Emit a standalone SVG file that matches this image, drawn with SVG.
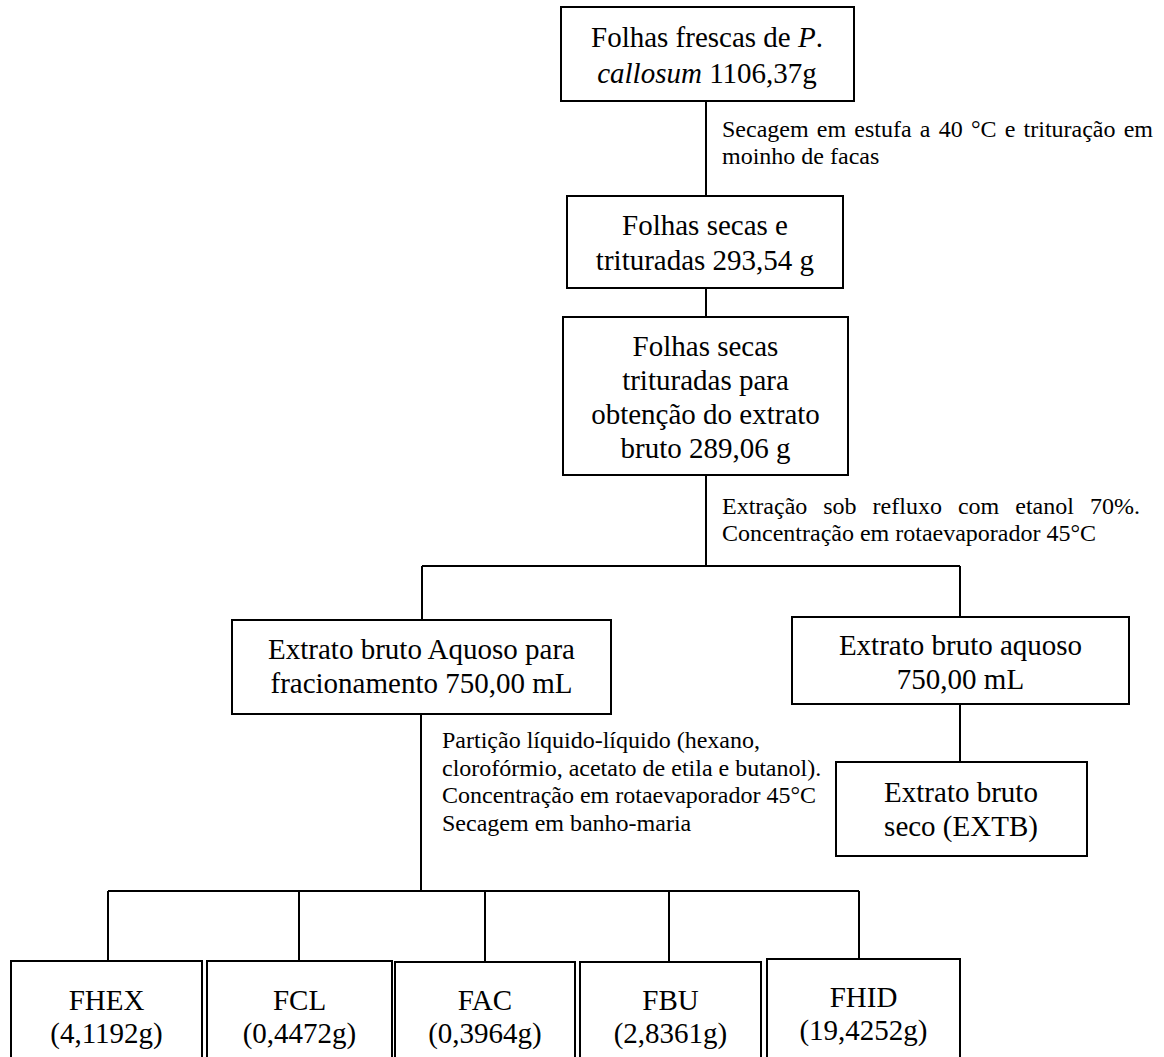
<svg xmlns="http://www.w3.org/2000/svg" width="1164" height="1057" viewBox="0 0 1164 1057">
<style>
  .box{fill:#fff;stroke:#000;stroke-width:2}
  .ln{fill:none;stroke:#000;stroke-width:2}
  .t{font-family:"Liberation Serif","Times New Roman",serif;font-size:29px;fill:#000;text-anchor:middle}
  .lbl{font-family:"Liberation Serif","Times New Roman",serif;font-size:24px;fill:#000}
  .i{font-style:italic}
</style>
<rect width="1164" height="1057" fill="#fff"/>
<g id="connectors">
  <path class="ln" d="M706 101V196M706 288V317M706 475V566M422 566H960M422 566V620M960 566V617M960 704V762"/>
  <path class="ln" d="M421 714V891M108 891H859M108 891V961M299 891V961M485 891V962M669 891V962M859 891V959"/>
</g>
<g id="label-secagem">
  <text class="lbl" x="722" y="137" word-spacing="2.2">Secagem em estufa a 40 °C e trituração em</text>
  <text class="lbl" x="722" y="164">moinho de facas</text>
</g>
<g id="label-extracao">
  <text class="lbl" x="722" y="514" word-spacing="10">Extração sob refluxo com etanol 70%.</text>
  <text class="lbl" x="722" y="541">Concentração em rotaevaporador 45°C</text>
</g>
<g id="label-particao">
  <text class="lbl" x="442" y="748">Partição líquido-líquido (hexano,</text>
  <text class="lbl" x="442" y="776">clorofórmio, acetato de etila e butanol).</text>
  <text class="lbl" x="442" y="803">Concentração em rotaevaporador 45°C</text>
  <text class="lbl" x="442" y="831">Secagem em banho-maria</text>
</g>
<g id="n-folhas-frescas">
  <rect class="box" x="561" y="7" width="293" height="94"/>
  <text class="t" x="707" y="47">Folhas frescas de <tspan class="i">P</tspan>.</text>
  <text class="t" x="707" y="83"><tspan class="i">callosum</tspan> 1106,37g</text>
</g>
<g id="n-folhas-secas">
  <rect class="box" x="567" y="196" width="276" height="92"/>
  <text class="t" x="705" y="235">Folhas secas e</text>
  <text class="t" x="705" y="270">trituradas 293,54 g</text>
</g>
<g id="n-folhas-extrato">
  <rect class="box" x="563" y="317" width="285" height="158"/>
  <text class="t" x="705.5" y="356">Folhas secas</text>
  <text class="t" x="705.5" y="390">trituradas para</text>
  <text class="t" x="705.5" y="424">obtenção do extrato</text>
  <text class="t" x="705.5" y="458">bruto 289,06 g</text>
</g>
<g id="n-extrato-fracionamento">
  <rect class="box" x="232" y="620" width="379" height="94"/>
  <text class="t" x="421.5" y="659">Extrato bruto Aquoso para</text>
  <text class="t" x="421.5" y="693">fracionamento 750,00 mL</text>
</g>
<g id="n-extrato-aquoso">
  <rect class="box" x="792" y="617" width="337" height="87"/>
  <text class="t" x="960.5" y="655">Extrato bruto aquoso</text>
  <text class="t" x="960.5" y="689">750,00 mL</text>
</g>
<g id="n-extb">
  <rect class="box" x="836" y="762" width="251" height="94"/>
  <text class="t" x="961" y="802">Extrato bruto</text>
  <text class="t" x="961" y="836">seco (EXTB)</text>
</g>
<g id="n-fhex">
  <rect class="box" x="11" y="961" width="191" height="120"/>
  <text class="t" x="106.5" y="1010">FHEX</text>
  <text class="t" x="106.5" y="1043">(4,1192g)</text>
</g>
<g id="n-fcl">
  <rect class="box" x="207" y="961" width="185" height="120"/>
  <text class="t" x="299.5" y="1010">FCL</text>
  <text class="t" x="299.5" y="1043">(0,4472g)</text>
</g>
<g id="n-fac">
  <rect class="box" x="395" y="962" width="180" height="120"/>
  <text class="t" x="485" y="1010">FAC</text>
  <text class="t" x="485" y="1043">(0,3964g)</text>
</g>
<g id="n-fbu">
  <rect class="box" x="580" y="962" width="181" height="120"/>
  <text class="t" x="670.5" y="1010">FBU</text>
  <text class="t" x="670.5" y="1043">(2,8361g)</text>
</g>
<g id="n-fhid">
  <rect class="box" x="767" y="959" width="193" height="120"/>
  <text class="t" x="863.5" y="1007">FHID</text>
  <text class="t" x="863.5" y="1040">(19,4252g)</text>
</g>
</svg>
